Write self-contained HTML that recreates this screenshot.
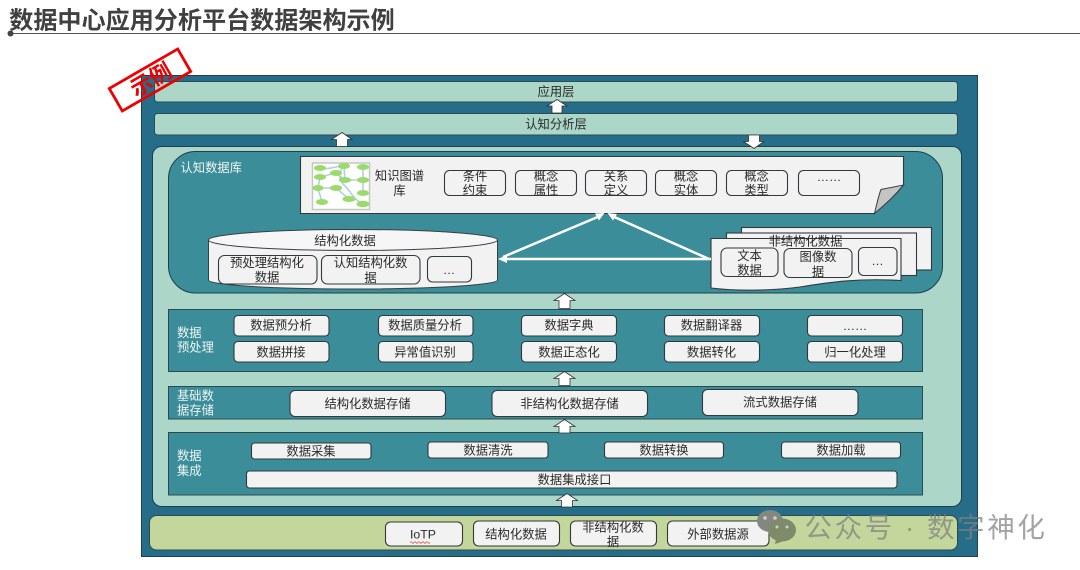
<!DOCTYPE html>
<html><head><meta charset="utf-8"><style>
html,body{margin:0;padding:0;background:#fff;width:1080px;height:570px;overflow:hidden}
svg{display:block;filter:blur(.35px)}
text{font-family:"Liberation Sans","Noto Sans CJK SC",sans-serif;font-size:12.3px;fill:#2a2a2a;text-anchor:middle}
.b{fill:#f2f2f2;stroke:#33383b;stroke-width:1.100}
.l{fill:#f0f5f3;text-anchor:start}
.p{fill:#3b8d9a;stroke:#2c4a52;stroke-width:1}
.ar{fill:#fff;stroke:#333;stroke-width:.8}
</style></head><body>
<svg width="1080" height="570" viewBox="0 0 1080 570" xmlns="http://www.w3.org/2000/svg">
<text x="202" y="28.500" style="font-size:24.100px;font-weight:bold;fill:#404040">数据中心应用分析平台数据架构示例</text>
<rect x="9" y="33" width="1071" height="1" fill="#555"/>
<circle cx="10.500" cy="33.500" r="3" fill="#444"/>

<rect x="141.500" y="75.500" width="836" height="481" fill="#266d8a" stroke="#1f3f4c"/>
<rect x="154.500" y="81.500" width="803" height="20.500" rx="3" fill="#abd6c8" stroke="#2c4a52"/>
<text x="556" y="96">应用层</text>
<rect x="154.500" y="113.500" width="803" height="21.500" rx="3" fill="#abd6c8" stroke="#2c4a52"/>
<text x="556" y="128.500">认知分析层</text>

<rect x="152.500" y="146.500" width="809" height="360" rx="9" fill="#abd6c8" stroke="#1f3f4c"/>

<rect x="168.500" y="151.500" width="774" height="141.500" rx="27" fill="#3b8d9a" stroke="#1f3f4c"/>
<text class="l" x="180.500" y="172">认知数据库</text>

<!-- document -->
<path d="M300.500 156.500H903.500V185C893 198 883 206 874.500 213.500H300.500Z" class="b"/>
<path d="M874.500 213.500C877 203 879 194 881 189.500L903.500 185C893 198 883 206 874.500 213.500Z" fill="#c4c4c4" stroke="#3a3f42"/>
<rect x="312.500" y="163" width="57" height="46.500" fill="#fff" stroke="#c4c8c4" stroke-width="1.500"/>
<g fill="none" stroke="#b4cfe0" stroke-width="1.600">
<path d="M320 168C330 170 335 166 344 166M344 166C338 172 338 180 345 186C352 193 352 198 363 204M320 177L318 188M318 188L322 202M318 188H336M336 173L320 177M345 180L344 167M363 167V193M336 188L349 199M363 180H345M336 173L345 180"/>
</g>
<g fill="#99dc6a">
<ellipse cx="320" cy="168" rx="6" ry="3"/><ellipse cx="344" cy="166" rx="6" ry="3"/><ellipse cx="363" cy="167" rx="6" ry="3"/>
<ellipse cx="320" cy="177" rx="6" ry="3"/><ellipse cx="336" cy="173" rx="6" ry="3"/><ellipse cx="345" cy="180" rx="6" ry="3"/>
<ellipse cx="363" cy="180" rx="6" ry="3"/><ellipse cx="318" cy="188" rx="5.500" ry="3"/><ellipse cx="336" cy="188" rx="6" ry="3"/>
<ellipse cx="363" cy="193" rx="6" ry="3"/><ellipse cx="322" cy="202" rx="6" ry="3"/><ellipse cx="349" cy="199" rx="6.500" ry="3"/><ellipse cx="363" cy="204" rx="6.500" ry="3.200"/>
</g>
<text x="399.500" y="180">知识图谱</text>
<text x="399.500" y="195">库</text>
<rect class="b" x="444.500" y="170.500" width="61" height="25" rx="5"/><text x="475" y="180.500">条件</text><text x="475" y="194.500">约束</text>
<rect class="b" x="515.500" y="170.500" width="61" height="25" rx="5"/><text x="546" y="180.500">概念</text><text x="546" y="194.500">属性</text>
<rect class="b" x="585.500" y="170.500" width="61" height="25" rx="5"/><text x="616" y="180.500">关系</text><text x="616" y="194.500">定义</text>
<rect class="b" x="655.500" y="170.500" width="61" height="25" rx="5"/><text x="686" y="180.500">概念</text><text x="686" y="194.500">实体</text>
<rect class="b" x="726.500" y="170.500" width="61" height="25" rx="5"/><text x="756.500" y="180.500">概念</text><text x="756.500" y="194.500">类型</text>
<rect class="b" x="798.500" y="170.500" width="61" height="25" rx="5"/><text x="829" y="181">……</text>

<!-- cylinder -->
<path d="M208.500 240V280C208.500 285 273 289 353 289S497.500 285 497.500 280V240Z" fill="#f2f2f2" stroke="#3a3f42"/>
<ellipse cx="353" cy="240" rx="144.500" ry="10.500" fill="#f6f6f6" stroke="#3a3f42"/>
<text x="345" y="245">结构化数据</text>
<rect class="b" x="218.500" y="255.500" width="98.500" height="28.500" rx="6"/><text x="267" y="267">预处理结构化</text><text x="267" y="281.500">数据</text>
<rect class="b" x="321.500" y="255.500" width="98.500" height="28.500" rx="6"/><text x="370.500" y="267">认知结构化数</text><text x="370.500" y="282">据</text>
<rect class="b" x="427.500" y="256.500" width="44" height="25.500" rx="5"/><text x="449" y="274">…</text>

<!-- unstructured docs -->
<rect class="b" x="741.500" y="227.500" width="190" height="42.500"/>
<rect class="b" x="726.500" y="233" width="190" height="42.500"/>
<path class="b" d="M711 238.500H901V280.500C860 278 830 282 800 287C770 291 735 291 711 288Z"/>
<text x="805.500" y="245.500">非结构化数据</text>
<rect class="b" x="721" y="248" width="57" height="28.500" rx="6"/><text x="749.500" y="260">文本</text><text x="749.500" y="274.500">数据</text>
<rect class="b" x="784" y="248.500" width="68" height="29" rx="6"/><text x="818" y="261">图像数</text><text x="818" y="276">据</text>
<rect class="b" x="858.500" y="247.500" width="38.500" height="28" rx="5"/><text x="877.500" y="265">…</text>

<!-- white connectors -->
<g stroke="#fff" stroke-width="2.500" fill="#fff">
<line x1="503" y1="259" x2="711" y2="259"/>
<line x1="503" y1="257" x2="600" y2="216"/>
<line x1="709" y1="259" x2="612" y2="216"/>
<path d="M498 259L507 255V263Z" stroke="none"/>
<path d="M604.500 213L595 213.500L599 220.500Z" stroke="none"/>
<path d="M607.500 213L617 214L613 220.500Z" stroke="none"/>
</g>

<!-- preprocessing -->
<rect class="p" x="168.500" y="309.500" width="754" height="62"/>
<text class="l" x="177" y="337">数据</text><text class="l" x="177" y="351.500">预处理</text>
<rect class="b" x="234" y="315.500" width="95" height="20.500" rx="4"/><text x="281" y="329.500">数据预分析</text>
<rect class="b" x="234" y="341.500" width="95" height="20.500" rx="4"/><text x="281" y="356.500">数据拼接</text>
<rect class="b" x="378.500" y="315.500" width="94.500" height="20.500" rx="4"/><text x="425" y="329.500">数据质量分析</text>
<rect class="b" x="378.500" y="341.500" width="94.500" height="20.500" rx="4"/><text x="425" y="356.500">异常值识别</text>
<rect class="b" x="521.500" y="315.500" width="95" height="20.500" rx="4"/><text x="569" y="329.500">数据字典</text>
<rect class="b" x="521.500" y="341.500" width="95" height="20.500" rx="4"/><text x="569" y="356.500">数据正态化</text>
<rect class="b" x="664.500" y="315.500" width="95" height="20.500" rx="4"/><text x="711.500" y="329.500">数据翻译器</text>
<rect class="b" x="664.500" y="341.500" width="95" height="20.500" rx="4"/><text x="711.500" y="356.500">数据转化</text>
<rect class="b" x="807.500" y="315.500" width="95" height="20.500" rx="4"/><text x="855" y="330">……</text>
<rect class="b" x="807.500" y="341.500" width="95" height="20.500" rx="4"/><text x="855" y="356.500">归一化处理</text>

<!-- storage -->
<rect class="p" x="168.500" y="386.500" width="754" height="32.500"/>
<text class="l" x="177" y="400">基础数</text><text class="l" x="177" y="414.500">据存储</text>
<rect class="b" x="290" y="390.500" width="155.500" height="26" rx="5"/><text x="367.500" y="408">结构化数据存储</text>
<rect class="b" x="492" y="390.500" width="155.500" height="26" rx="5"/><text x="569.500" y="408">非结构化数据存储</text>
<rect class="b" x="702.500" y="389.500" width="155.500" height="26" rx="5"/><text x="780" y="406.500">流式数据存储</text>

<!-- integration -->
<rect class="p" x="168.500" y="432.500" width="754" height="62.500"/>
<text class="l" x="177" y="460">数据</text><text class="l" x="177" y="475">集成</text>
<rect class="b" x="251.500" y="443" width="119.500" height="16" rx="3"/><text x="311" y="455.500">数据采集</text>
<rect class="b" x="428" y="442" width="120" height="16" rx="3"/><text x="488" y="454.500">数据清洗</text>
<rect class="b" x="604.500" y="442" width="119" height="16" rx="3"/><text x="664" y="454.500">数据转换</text>
<rect class="b" x="781.500" y="442" width="119" height="16" rx="3"/><text x="841" y="454.500">数据加载</text>
<rect class="b" x="246.500" y="471" width="650.500" height="17" rx="3"/><text x="574.500" y="484">数据集成接口</text>

<!-- sources -->
<rect x="149.500" y="515.500" width="808" height="34.500" rx="7" fill="#c3d69b" stroke="#2c4a52"/>
<rect class="b" x="385.500" y="522" width="77" height="24" rx="5"/><text x="423" y="538.500">IoTP</text>
<path d="M410 542.500q1-1.500 2 0t2 0 2 0 2 0 2 0 2 0 2 0 2 0 2 0 2 0" fill="none" stroke="#e05050" stroke-width=".8"/>
<rect class="b" x="473.500" y="521" width="86" height="25" rx="5"/><text x="516" y="538.500">结构化数据</text>
<rect class="b" x="570.500" y="521" width="86" height="25" rx="5"/><text x="613" y="531.500">非结构化数</text><text x="613" y="546">据</text>
<rect class="b" x="667.500" y="521" width="101.500" height="25" rx="5"/><text x="718" y="538.500">外部数据源</text>

<!-- arrows -->
<path class="ar" d="M557 99.500L567 106H562V113H552V106H547Z"/>
<path class="ar" d="M342 132.500L352 139.500H347.500V146.500H336.500V139.500H331.500Z"/>
<path class="ar" d="M754 148.500L764 141.500H759.500V135H748.500V141.500H743.500Z"/>
<path class="ar" d="M564.500 293.500L575 300.500H570V308.500H559V300.500H554Z"/>
<path class="ar" d="M564.500 371.500L575 378.500H570V385.500H559V378.500H554Z"/>
<path class="ar" d="M564.500 419.500L575 426.500H570V433H559V426.500H554Z"/>
<path class="ar" d="M567 493.500L577.500 500.500H572.500V507H561.500V500.500H556.500Z"/>

<!-- stamp -->
<g transform="translate(150 80) rotate(-30)">
<rect x="-39.500" y="-13" width="79" height="26" fill="none" stroke="#ee0000" stroke-width="2.800"/>
<text x="1" y="8" style="font-size:22px;font-weight:bold;fill:#ee0000">示例</text>
</g>

<!-- watermark -->
<ellipse cx="770" cy="521" rx="13" ry="11" fill="#83877f"/>
<ellipse cx="782" cy="530" rx="14" ry="11.500" fill="#7f8a6a"/>
<path d="M776 539L775 544L784 541Z" fill="#7f8a6a"/>
<circle cx="765" cy="518" r="1.800" fill="#c9d0c4"/><circle cx="775" cy="518" r="1.800" fill="#c9d0c4"/>
<circle cx="777" cy="527" r="1.500" fill="#c9d0c4"/><circle cx="787" cy="527" r="1.500" fill="#c9d0c4"/>
<text x="926" y="537" style="font-size:27.500px;letter-spacing:2.600px;fill:#808080;fill-opacity:.72">公众号 · 数字神化</text>
</svg>
</body></html>
